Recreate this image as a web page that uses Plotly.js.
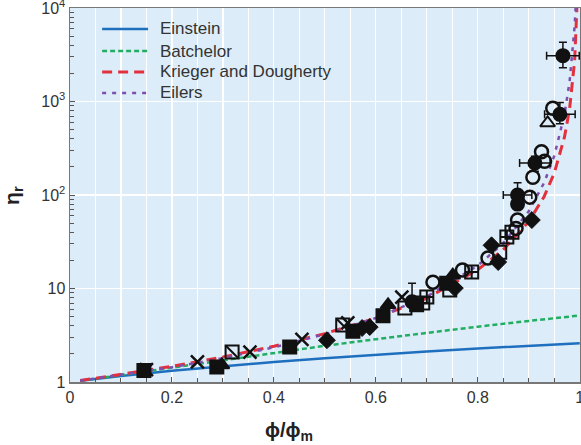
<!DOCTYPE html>
<html><head><meta charset="utf-8">
<script src="https://cdn.plot.ly/plotly-3.0.1.min.js"></script>
<style>html,body{margin:0;padding:0;background:#fff}#chart{width:581px;height:445px}</style>
</head><body><div id="chart"></div>
<script>
// Model curves
const einsteinX = [0.02,0.1,0.2,0.3,0.4,0.5,0.6,0.7,0.8,0.9,1.0];
const einsteinY = [1.03,1.16,1.32,1.48,1.64,1.8,1.96,2.12,2.28,2.44,2.6];
const batchelorX = [0.02,0.1,0.2,0.3,0.4,0.5,0.6,0.7,0.8,0.9,1.0];
const batchelorY = [1.03,1.19,1.42,1.71,2.05,2.44,2.87,3.36,3.91,4.5,5.14];
const kdX = [0.02,0.1,0.2,0.3,0.4,0.5,0.6,0.7,0.8,0.85,0.9,0.93,0.95,0.97,0.98,0.99,0.995,0.997];
const kdY = [1.035,1.2,1.47,1.85,2.41,3.29,4.83,7.9,15.9,26,52,96,172,416,830,2750,9100,22000];
const eilersX = [0.02,0.1,0.2,0.3,0.4,0.5,0.6,0.7,0.8,0.85,0.9,0.93,0.95,0.97,0.98,0.99,0.993];
const eilersY = [1.033,1.19,1.44,1.8,2.35,3.24,4.84,8.2,17.6,30.6,67,135,262,725,1616,6430,13100];
const seriesNames = ['Einstein','Batchelor','Krieger and Dougherty','Eilers'];

// Experimental data, grouped by marker
const filledCircleX = [0.967,0.961,0.912,0.878,0.878,0.671];
const filledCircleY = [3100,730,220,100,80,7.2];
const filledCircleErrX = [0.032,0.03,0.03,0.028,0,0];
const filledCircleErrYPlus = [1200,250,40,35,0,4.2];
const filledCircleErrYMinus = [800,150,40,25,0,0];
const openCircleX = [0.712,0.77,0.82,0.875,0.878,0.902,0.908,0.931,0.925,0.947];
const openCircleY = [11.7,15.8,21.2,44,54,95,155,230,290,850];
const filledSquareX = [0.145,0.288,0.431,0.555,0.614,0.68,0.739];
const filledSquareY = [1.33,1.45,2.37,3.5,5.1,6.7,11.4];
const slashSquareX = [0.318,0.535];
const slashSquareY = [2.09,4.07];
const crossX = [0.15,0.25,0.353,0.455,0.545,0.651];
const crossY = [1.36,1.64,2.09,2.85,4.3,8.1];
const filledTriX = [0.298,0.624,0.751];
const filledTriY = [1.52,6.7,13.9];
const openTriX = [0.937];
const openTriY = [590];
const diamondX = [0.504,0.573,0.588,0.755,0.84,0.827,0.906];
const diamondY = [2.8,3.78,3.87,10.1,19.2,29,54];
const openSquareX = [0.657,0.745,0.843,0.867];
const openSquareY = [6.2,9.65,24.5,40];
const plusSquareX = [0.692,0.70,0.788,0.857];
const plusSquareY = [7.0,8.1,15.0,35.5];

const xTickVals = [0,0.2,0.4,0.6,0.8,1];
const xTickText = ['0','0.2','0.4','0.6','0.8','1'];
const yTickVals = [1,10,100,1000,10000];
const yTickText = ['1','10','10<sup>2</sup>','10<sup>3</sup>','10<sup>4</sup>'];
const yMinor = [];
[1,10,100,1000].forEach(d=>{for(let k=2;k<=9;k++) yMinor.push(k*d);});

const lineStyles = [
  {color:'#1f6fbf', width:2.5},
  {color:'#23ad62', width:2.5, dash:'5px,3px'},
  {color:'#e2313c', width:3, dash:'10px,6px'},
  {color:'#7d4fae', width:2.5, dash:'4px,6px'}
];

const mk = (sym, x, y, extra) => Object.assign({
  type:'scatter', mode:'markers', x:x, y:y, showlegend:false, hoverinfo:'skip', cliponaxis:false,
  marker:{symbol:sym, size:13, color:'#111', line:{color:'#111', width:2}}
}, extra||{});

const curves = [[einsteinX,einsteinY],[batchelorX,batchelorY],[kdX,kdY],[eilersX,eilersY]];
const traces = curves.map((c,i)=>({x:c[0], y:c[1], name:seriesNames[i], mode:'lines', showlegend:false, line:lineStyles[i]}));
traces.push(
  mk('circle', filledCircleX, filledCircleY, {
    error_x:{type:'data', array:filledCircleErrX, color:'#111', thickness:1.5, width:4},
    error_y:{type:'data', symmetric:false, array:filledCircleErrYPlus, arrayminus:filledCircleErrYMinus, color:'#111', thickness:1.5, width:4}}),
  mk('circle-open', openCircleX, openCircleY, {marker:{symbol:'circle-open', size:13, color:'#111', line:{width:2.5}}}),
  mk('square', filledSquareX, filledSquareY),
  mk('square-open', slashSquareX, slashSquareY),
  mk('line-nw', slashSquareX, slashSquareY, {marker:{symbol:'line-nw', size:12, color:'#111', line:{color:'#111', width:2}}}),
  mk('x-thin-open', crossX, crossY, {marker:{symbol:'x-thin-open', size:13, color:'#111', line:{color:'#111', width:2.5}}}),
  mk('triangle-up', filledTriX, filledTriY),
  mk('triangle-up-open', openTriX, openTriY),
  mk('diamond', diamondX, diamondY, {marker:{symbol:'diamond', size:13, color:'#111', line:{color:'#111', width:1}}}),
  mk('square-open', openSquareX, openSquareY),
  mk('square-cross-open', plusSquareX, plusSquareY)
);

// manual legend (paper coordinates)
const legendRowsY = [0.944, 0.885, 0.829, 0.773];
const shapes = seriesNames.map((n,i)=>({type:'line', xref:'paper', yref:'paper',
  x0:0.063, x1:0.153, y0:legendRowsY[i], y1:legendRowsY[i], line:lineStyles[i]}));
const annotations = seriesNames.map((n,i)=>({text:n, xref:'paper', yref:'paper', x:0.172, y:legendRowsY[i],
  xanchor:'left', yanchor:'middle', showarrow:false, font:{size:17, color:'#333'}}));
annotations.push(
  {text:'η<sub>r</sub>', xref:'paper', yref:'paper', x:-0.112, y:0.5, xanchor:'center', yanchor:'middle', textangle:-90, showarrow:false,
   font:{size:21, color:'#222', weight:'bold'}},
  {text:'ϕ/ϕ<sub>m</sub>', xref:'paper', yref:'paper', x:0.43, y:-0.133, xanchor:'center', yanchor:'middle', showarrow:false,
   font:{size:20, color:'#222', weight:'bold'}}
);

const layout = {
  width:581, height:445,
  margin:{l:70, r:1, t:8, b:63},
  paper_bgcolor:'#ffffff', plot_bgcolor:'#dcedf9',
  font:{family:'Liberation Sans, Arial, sans-serif', size:16, color:'#333'},
  showlegend:false,
  shapes:shapes, annotations:annotations,
  xaxis:{range:[0,1.0005], tickvals:xTickVals, ticktext:xTickText, ticks:'inside', ticklen:5, tickcolor:'#555',
         ticklabeloverflow:'allow',
         showline:true, linecolor:'#777', linewidth:1.5, mirror:true, showgrid:true, gridcolor:'#ffffff', gridwidth:1.2,
         zeroline:false, tickfont:{size:16, color:'#333'},
         minor:{dtick:0.05, tick0:0, ticks:'inside', ticklen:4, tickcolor:'#555', showgrid:true, gridcolor:'#ffffff', gridwidth:1.2}},
  yaxis:{type:'log', range:[0,4.001], tickvals:yTickVals, ticktext:yTickText, ticks:'inside', ticklen:5, tickcolor:'#555',
         ticklabeloverflow:'allow',
         showline:true, linecolor:'#777', linewidth:1.5, mirror:true, showgrid:true, gridcolor:'#ffffff', gridwidth:1.2,
         zeroline:false, tickfont:{size:16, color:'#333'},
         minor:{tickvals:yMinor, ticks:'inside', ticklen:4, tickcolor:'#555', showgrid:false}}
};
Plotly.newPlot('chart', traces, layout, {staticPlot:true, displayModeBar:false});
</script></body></html>
